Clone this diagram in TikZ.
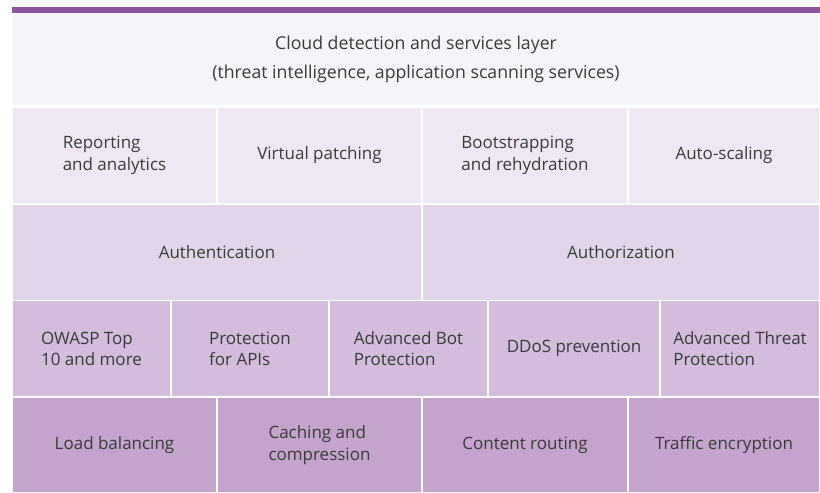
\documentclass[tikz,border=0pt]{standalone}
\usepackage{fontspec}
\setmainfont{Open Sans}
\usepackage{tikz}

\definecolor{barc}{HTML}{8E549E}
\definecolor{rowa}{HTML}{F6F4F9}
\definecolor{rowb}{HTML}{EFE8F4}
\definecolor{rowc}{HTML}{E1D5E9}
\definecolor{rowd}{HTML}{D3BCDC}
\definecolor{rowe}{HTML}{C4A4CC}
\definecolor{txt}{HTML}{3A3A3A}

\begin{document}
\begin{tikzpicture}[x=1pt,y=-1pt]
  \tikzset{cell/.style = {draw=white,line width=1.5pt,inner sep=0pt,text=txt,align=left,
      font=\fontsize{17}{21.5}\selectfont}}
  \useasboundingbox (0,0) rectangle (820,493);
  \fill[barc] (12,7) rectangle (820,14.5);

  \node[cell,fill=rowa,minimum width=808pt,minimum height=92.5pt,align=center,
        font=\fontsize{17.7}{29}\selectfont] (cloud) at (416,59.5)
        {Cloud detection and services layer\\(threat intelligence, application scanning services)};

  \foreach \name/\xa/\xb/\txt in {rep/12/217/{Reporting\\and analytics},patch/217/422/{Virtual patching},
      boot/422/628/{Bootstrapping\\and rehydration},scale/628/820/{Auto-scaling}}
    \node[cell,fill=rowb,minimum width={(\xb-\xa)*1pt},minimum height=97pt] (\name) at ({(\xa+\xb)/2},155.5) {\txt};

  \foreach \name/\xa/\xb/\txt in {authn/12/422/{Authentication},authz/422/820/{Authorization}}
    \node[cell,fill=rowc,minimum width={(\xb-\xa)*1pt},minimum height=96.5pt] (\name) at ({(\xa+\xb)/2},252.25) {\txt};

  \foreach \name/\xa/\xb/\txt in {owasp/12/171/{OWASP Top\\10 and more},api/171/329/{Protection\\for APIs},
      bot/329/488/{Advanced Bot\\Protection},ddos/488/660/{DDoS prevention},atp/660/820/{Advanced Threat\\Protection}}
    \node[cell,fill=rowd,minimum width={(\xb-\xa)*1pt},minimum height=96.5pt] (\name) at ({(\xa+\xb)/2},348.75) {\txt};

  \foreach \name/\xa/\xb/\txt in {lb/12/217/{Load balancing},cache/217/422/{Caching and\\compression},
      route/422/628/{Content routing},enc/628/820/{Traffic encryption}}
    \node[cell,fill=rowe,minimum width={(\xb-\xa)*1pt},minimum height=96pt] (\name) at ({(\xa+\xb)/2},445) {\txt};
\end{tikzpicture}
\end{document}
